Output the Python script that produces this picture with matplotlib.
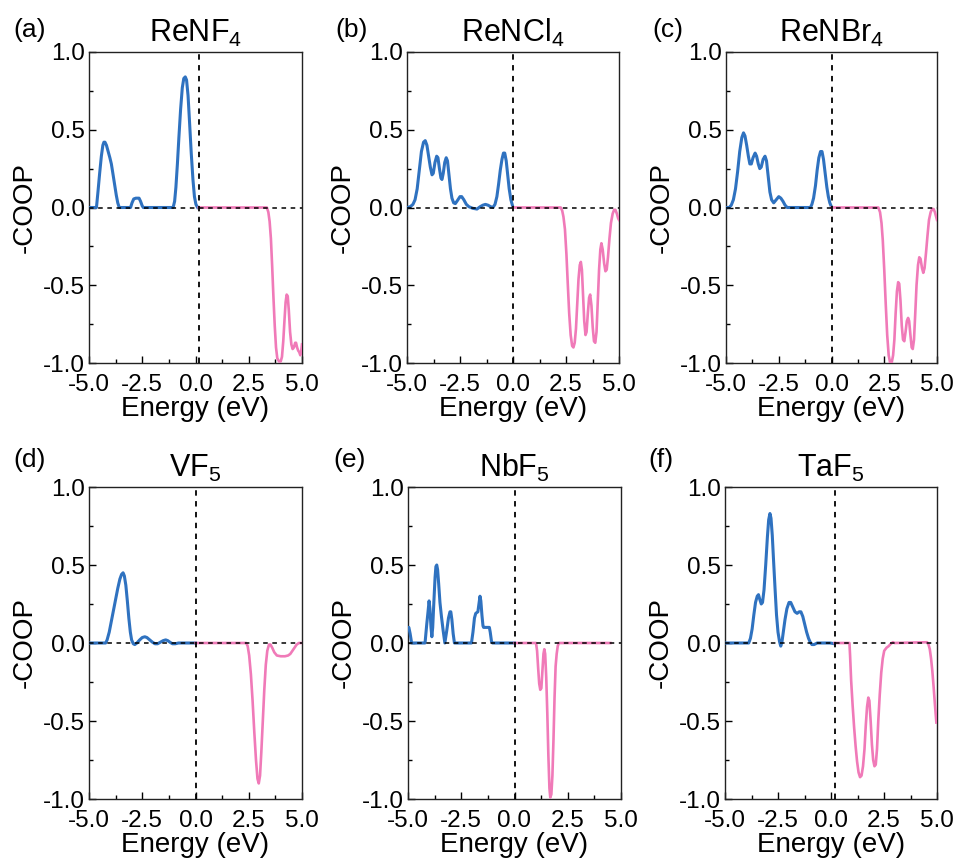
import matplotlib
matplotlib.use("Agg")
import matplotlib.pyplot as plt
from matplotlib.ticker import MultipleLocator

plt.rcParams['font.family'] = ['Liberation Sans', 'DejaVu Sans']
plt.rcParams['mathtext.fontset'] = 'custom'
plt.rcParams['mathtext.rm'] = 'Liberation Sans'

panel_tags = ['(a)', '(b)', '(c)', '(d)', '(e)', '(f)']
compounds = ['ReNF$_4$', 'ReNCl$_4$', 'ReNBr$_4$', 'VF$_5$', 'NbF$_5$', 'TaF$_5$']
fermi_levels = [0.15, 0.0, 0.0, 0.0, 0.0, 0.17]

# ---- ReNF4 ----
renf4_occ_e = [-5.0, -4.65, -4.58, -4.50, -4.42, -4.35, -4.30, -4.25, -4.18, -4.10, -4.02, -3.95, -3.88,
               -3.80, -3.72, -3.65, -3.58, -3.05, -2.98, -2.90, -2.80, -2.65, -2.58, -2.50, -2.45,
               -1.05, -0.98, -0.92, -0.85, -0.78, -0.70, -0.62, -0.55, -0.48, -0.42, -0.35, -0.28,
               -0.20, -0.12, -0.05, 0.02, 0.10]
renf4_occ_v = [0.0, 0.0, 0.10, 0.22, 0.33, 0.40, 0.42, 0.42, 0.40, 0.36, 0.32, 0.28, 0.22,
               0.15, 0.08, 0.03, 0.0, 0.0, 0.03, 0.055, 0.06, 0.06, 0.04, 0.01, 0.0,
               0.0, 0.04, 0.13, 0.28, 0.45, 0.63, 0.77, 0.83, 0.84, 0.82, 0.72, 0.55,
               0.35, 0.18, 0.07, 0.02, 0.0]
renf4_emp_e = [0.15, 3.35, 3.42, 3.48, 3.54, 3.60, 3.66, 3.72, 3.78, 3.84, 3.92, 4.00, 4.06, 4.12, 4.18,
               4.23, 4.28, 4.33, 4.38, 4.44, 4.50, 4.56, 4.62, 4.68, 4.72, 4.77, 4.82, 4.87, 4.92, 4.96, 5.0]
renf4_emp_v = [0.0, 0.0, -0.03, -0.09, -0.20, -0.38, -0.58, -0.76, -0.90, -0.97, -0.99, -0.99, -0.96, -0.86, -0.72,
               -0.61, -0.56, -0.57, -0.66, -0.80, -0.88, -0.91, -0.90, -0.87, -0.87, -0.90, -0.92, -0.93, -0.95,
               -0.93, -0.88]

# ---- ReNCl4 ----
rencl4_occ_e = [-5.0, -4.85, -4.72, -4.62, -4.52, -4.42, -4.32, -4.22, -4.14, -4.06, -3.98, -3.90, -3.82,
                -3.76, -3.68, -3.60, -3.54, -3.47, -3.40, -3.35, -3.29, -3.22, -3.15, -3.09, -3.02, -2.95,
                -2.88, -2.80, -2.72, -2.62, -2.50, -2.42, -2.32, -2.20, -2.08, -1.90, -1.70, -1.55, -1.42,
                -1.30, -1.18, -1.05, -0.95, -0.85, -0.76, -0.68, -0.60, -0.52, -0.45, -0.39, -0.32, -0.25,
                -0.18, -0.10, -0.02]
rencl4_occ_v = [0.0, 0.005, 0.02, 0.05, 0.12, 0.24, 0.36, 0.42, 0.43, 0.40, 0.33, 0.26, 0.21,
                0.22, 0.29, 0.33, 0.32, 0.25, 0.19, 0.18, 0.22, 0.29, 0.32, 0.30, 0.21, 0.12,
                0.06, 0.03, 0.025, 0.045, 0.07, 0.07, 0.05, 0.02, 0.005, -0.005, -0.01, 0.005, 0.015,
                0.02, 0.015, 0.005, 0.0, 0.02, 0.07, 0.15, 0.24, 0.31, 0.35, 0.35, 0.30, 0.21,
                0.12, 0.05, 0.01]
rencl4_emp_e = [0.0, 2.25, 2.32, 2.38, 2.45, 2.52, 2.58, 2.65, 2.72, 2.79, 2.85, 2.91, 2.97, 3.03, 3.09,
                3.15, 3.20, 3.25, 3.30, 3.36, 3.42, 3.47, 3.53, 3.59, 3.64, 3.70, 3.76, 3.82, 3.88, 3.94,
                4.00, 4.06, 4.12, 4.17, 4.23, 4.30, 4.36, 4.42, 4.48, 4.55, 4.62, 4.70, 4.77, 4.83, 4.90,
                4.96, 5.0]
rencl4_emp_v = [0.0, 0.0, -0.02, -0.06, -0.14, -0.30, -0.48, -0.68, -0.82, -0.89, -0.90, -0.87, -0.78, -0.62,
                -0.46, -0.37, -0.35, -0.40, -0.55, -0.73, -0.82, -0.80, -0.68, -0.58, -0.56, -0.63, -0.77,
                -0.86, -0.87, -0.80, -0.60, -0.40, -0.27, -0.23, -0.27, -0.36, -0.41, -0.40, -0.32, -0.20,
                -0.10, -0.04, -0.015, -0.015, -0.04, -0.07, -0.08]

# ---- ReNBr4 ----
renbr4_occ_e = [-5.0, -4.85, -4.75, -4.65, -4.55, -4.45, -4.35, -4.25, -4.17, -4.10, -4.02, -3.94, -3.87,
                -3.80, -3.72, -3.62, -3.55, -3.47, -3.40, -3.33, -3.24, -3.15, -3.08, -3.00, -2.92, -2.84,
                -2.74, -2.62, -2.50, -2.40, -2.30, -2.20, -2.10, -1.00, -0.93, -0.85, -0.76, -0.68, -0.60,
                -0.52, -0.45, -0.38, -0.30, -0.22, -0.15, -0.08, -0.02]
renbr4_occ_v = [0.0, 0.0, 0.015, 0.05, 0.12, 0.23, 0.36, 0.45, 0.48, 0.46, 0.40, 0.33, 0.28,
                0.28, 0.32, 0.35, 0.33, 0.28, 0.25, 0.26, 0.31, 0.33, 0.30, 0.20, 0.10, 0.05,
                0.03, 0.05, 0.07, 0.06, 0.04, 0.015, 0.0, 0.0, 0.02, 0.06, 0.14, 0.24, 0.32,
                0.36, 0.36, 0.31, 0.22, 0.13, 0.07, 0.03, 0.01]
renbr4_emp_e = [0.0, 2.22, 2.30, 2.37, 2.43, 2.50, 2.57, 2.64, 2.71, 2.78, 2.85, 2.92, 2.98, 3.04, 3.10,
                3.16, 3.21, 3.27, 3.33, 3.39, 3.45, 3.51, 3.57, 3.63, 3.68, 3.74, 3.80, 3.85, 3.91, 3.97,
                4.03, 4.10, 4.16, 4.22, 4.29, 4.35, 4.41, 4.48, 4.55, 4.62, 4.70, 4.77, 4.84, 4.90, 4.96, 5.0]
renbr4_emp_v = [0.0, 0.0, -0.03, -0.10, -0.21, -0.40, -0.62, -0.82, -0.95, -1.0, -1.0, -0.95, -0.85, -0.68,
                -0.54, -0.48, -0.49, -0.60, -0.76, -0.85, -0.86, -0.80, -0.73, -0.71, -0.73, -0.82, -0.90,
                -0.91, -0.85, -0.68, -0.50, -0.37, -0.32, -0.33, -0.39, -0.42, -0.39, -0.29, -0.18, -0.08,
                -0.03, -0.01, -0.01, -0.03, -0.06, -0.08]

# ---- VF5 ----
vf5_occ_e = [-5.0, -4.22, -4.15, -4.05, -3.95, -3.85, -3.75, -3.65, -3.55, -3.47, -3.40, -3.34, -3.27,
             -3.20, -3.13, -3.06, -3.00, -2.92, -2.85, -2.75, -2.62, -2.50, -2.38, -2.28, -2.15, -2.02,
             -1.90, -1.78, -1.65, -1.52, -1.40, -1.30, -1.20, -1.08, -0.95, -0.80, 0.0]
vf5_occ_v = [0.0, 0.0, 0.02, 0.07, 0.14, 0.21, 0.28, 0.35, 0.41, 0.44, 0.45, 0.43, 0.37,
             0.27, 0.16, 0.07, 0.02, -0.005, -0.01, 0.0, 0.02, 0.035, 0.04, 0.035, 0.02, 0.005,
             -0.005, -0.005, 0.005, 0.015, 0.02, 0.015, 0.005, -0.005, -0.005, 0.0, 0.0]
vf5_emp_e = [0.0, 2.38, 2.45, 2.52, 2.60, 2.68, 2.76, 2.84, 2.91, 2.97, 3.03, 3.09, 3.16, 3.23, 3.30,
             3.37, 3.45, 3.52, 3.60, 3.70, 3.82, 4.00, 4.20, 4.35, 4.45, 4.55, 4.65, 4.75, 4.85, 5.0]
vf5_emp_v = [0.0, 0.0, -0.02, -0.08, -0.20, -0.37, -0.57, -0.75, -0.87, -0.90, -0.85, -0.70, -0.50, -0.30,
             -0.14, -0.05, -0.01, -0.01, -0.03, -0.06, -0.08, -0.085, -0.085, -0.08, -0.07, -0.05, -0.03,
             -0.01, 0.0, 0.0]

# ---- NbF5 ----
nbf5_occ_e = [-5.0, -4.96, -4.90, -4.83, -4.20, -4.12, -4.06, -4.01, -3.97, -3.92, -3.88, -3.84, -3.79,
              -3.73, -3.69, -3.65, -3.61, -3.56, -3.50, -3.43, -3.35, -3.27, -3.18, -3.10, -3.03, -2.99,
              -2.94, -2.88, -2.82, -2.02, -1.95, -1.88, -1.82, -1.72, -1.66, -1.62, -1.58, -1.53, -1.48,
              -1.45, -1.18, -1.14, -1.08, -1.03, 0.0]
nbf5_occ_v = [0.10, 0.10, 0.06, 0.0, 0.0, 0.12, 0.20, 0.27, 0.22, 0.10, 0.04, 0.10, 0.25,
              0.42, 0.49, 0.50, 0.47, 0.38, 0.26, 0.17, 0.08, 0.0, 0.08, 0.16, 0.20, 0.20,
              0.15, 0.06, 0.0, 0.0, 0.07, 0.16, 0.19, 0.20, 0.26, 0.30, 0.27, 0.18, 0.11,
              0.10, 0.10, 0.07, 0.01, 0.0, 0.0]
nbf5_emp_e = [0.0, 1.01, 1.06, 1.11, 1.16, 1.21, 1.26, 1.31, 1.36, 1.40, 1.44, 1.49, 1.54, 1.59, 1.64,
              1.68, 1.73, 1.78, 1.83, 1.88, 1.93, 1.98, 2.03, 2.08, 4.5]
nbf5_emp_v = [0.0, 0.0, -0.05, -0.16, -0.26, -0.30, -0.29, -0.18, -0.07, -0.04, -0.07, -0.22, -0.45, -0.72,
              -0.93, -0.99, -0.97, -0.85, -0.62, -0.35, -0.15, -0.07, -0.02, 0.0, 0.0]

# ---- TaF5 ----
taf5_occ_e = [-5.0, -3.88, -3.80, -3.72, -3.64, -3.56, -3.48, -3.42, -3.36, -3.29, -3.23, -3.16, -3.08,
              -3.00, -2.94, -2.88, -2.83, -2.77, -2.71, -2.64, -2.57, -2.50, -2.43, -2.37, -2.31, -2.24,
              -2.17, -2.08, -1.98, -1.90, -1.80, -1.70, -1.60, -1.50, -1.42, -1.33, -1.24, -1.15, -1.06,
              -0.98, -0.90, -0.80, -0.65, -0.04, 0.17]
taf5_occ_v = [0.0, 0.0, 0.03, 0.09, 0.18, 0.26, 0.30, 0.31, 0.28, 0.25, 0.26, 0.34, 0.50,
              0.68, 0.79, 0.83, 0.80, 0.69, 0.53, 0.35, 0.18, 0.07, 0.01, -0.02, 0.01, 0.08,
              0.15, 0.22, 0.26, 0.26, 0.23, 0.20, 0.19, 0.20, 0.20, 0.17, 0.12, 0.07, 0.03,
              0.005, -0.01, -0.01, 0.0, 0.0, -0.005]
taf5_emp_e = [0.17, 0.87, 0.90, 0.95, 1.02, 1.09, 1.16, 1.23, 1.30, 1.37, 1.44, 1.51, 1.58, 1.64, 1.70,
              1.76, 1.81, 1.87, 1.93, 1.99, 2.05, 2.11, 2.17, 2.23, 2.30, 2.37, 2.44, 2.51, 2.62, 2.72,
              2.82, 2.92, 3.00, 4.53, 4.60, 4.66, 4.72, 4.78, 4.84, 4.90, 4.97]
taf5_emp_v = [0.0, 0.0, -0.08, -0.24, -0.40, -0.54, -0.66, -0.76, -0.83, -0.86, -0.85, -0.79, -0.68, -0.53,
              -0.41, -0.35, -0.37, -0.50, -0.65, -0.75, -0.79, -0.78, -0.68, -0.50, -0.33, -0.19, -0.10,
              -0.05, -0.03, -0.02, -0.005, 0.005, 0.0, 0.005, -0.01, -0.04, -0.10, -0.18, -0.28, -0.39,
              -0.51]

occupied = [(renf4_occ_e, renf4_occ_v), (rencl4_occ_e, rencl4_occ_v), (renbr4_occ_e, renbr4_occ_v),
            (vf5_occ_e, vf5_occ_v), (nbf5_occ_e, nbf5_occ_v), (taf5_occ_e, taf5_occ_v)]
empty = [(renf4_emp_e, renf4_emp_v), (rencl4_emp_e, rencl4_emp_v), (renbr4_emp_e, renbr4_emp_v),
         (vf5_emp_e, vf5_emp_v), (nbf5_emp_e, nbf5_emp_v), (taf5_emp_e, taf5_emp_v)]

x_ticks = [-5.0, -2.5, 0.0, 2.5, 5.0]
y_ticks = [-1.0, -0.5, 0.0, 0.5, 1.0]

BLUE = '#2f72c0'
PINK = '#f07ab8'

fig = plt.figure(figsize=(9.58, 8.65), dpi=100)
W, H = 958, 865
# axes boxes in pixels: left, right, top, bottom
boxes = [(89, 302, 52, 363), (407, 619, 52, 363), (726, 937, 52, 363),
         (89, 302, 487, 799), (408, 621, 487, 799), (725, 937, 487, 799)]
tag_x = [-0.357, -0.34, -0.35, -0.357, -0.35, -0.36]
tag_y = [1.11, 1.11, 1.11, 1.125, 1.125, 1.125]

for i, (l, r, t, b) in enumerate(boxes):
    ax = fig.add_axes([l / W, 1 - b / H, (r - l) / W, (b - t) / H])
    oe, ov = occupied[i]
    ee, ev = empty[i]
    ax.plot(oe, ov, color=BLUE, lw=2.2, solid_joinstyle='round', zorder=3)
    ax.plot(ee, ev, color=PINK, lw=1.9, solid_joinstyle='round', zorder=3)
    ax.axhline(0, color='black', ls=(0, (3, 3)), lw=1.1, zorder=4)
    ax.axvline(fermi_levels[i], color='black', ls=(0, (3, 3)), lw=1.3, zorder=4)
    ax.set_xlim(-5, 5)
    ax.set_ylim(-1, 1)
    ax.set_xticks(x_ticks)
    ax.set_yticks(y_ticks)
    ax.set_xticklabels([f'{v:.1f}' for v in x_ticks])
    ax.set_yticklabels([f'{v:.1f}' for v in y_ticks])
    ax.xaxis.set_minor_locator(MultipleLocator(1.25))
    ax.yaxis.set_minor_locator(MultipleLocator(0.25))
    ax.tick_params(which='both', direction='in', top=False, right=False, labelsize=17.5)
    ax.tick_params(axis='x', pad=8)
    ax.tick_params(axis='y', pad=3)
    ax.tick_params(which='major', length=5, width=1.0)
    ax.tick_params(which='minor', length=3, width=1.0)
    for s in ax.spines.values():
        s.set_linewidth(1.0)
        s.set_color('#222222')
    ax.set_xlabel('Energy (eV)', fontsize=20, labelpad=0)
    ax.set_ylabel('-COOP', fontsize=20, labelpad=4)
    ax.set_title(compounds[i], fontsize=22, pad=7)
    ax.text(tag_x[i], tag_y[i], panel_tags[i], transform=ax.transAxes, fontsize=19,
            ha='left', va='top')

fig.savefig('out.png', dpi=100)
